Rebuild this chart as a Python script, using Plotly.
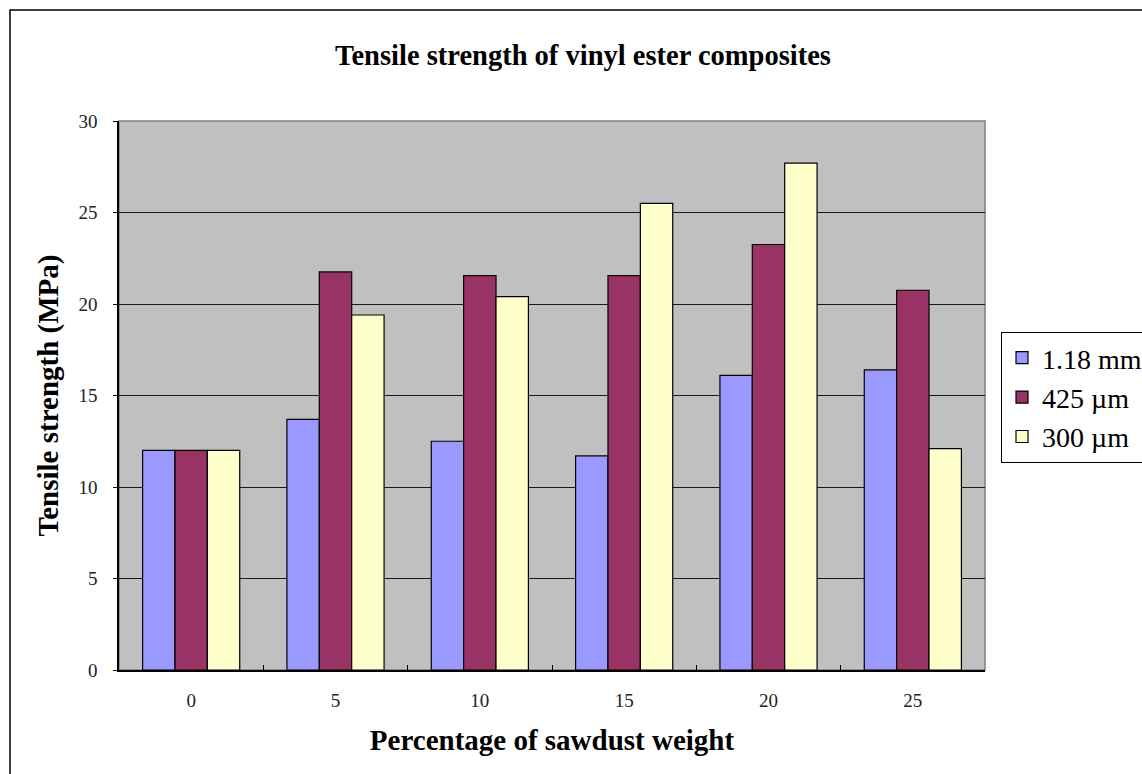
import plotly.graph_objects as go

# Sawdust weight percentages (categories)
sawdust_pct = ["0", "5", "10", "15", "20", "25"]

# Tensile strength (MPa) by particle size
strength_118mm = [12.0, 13.7, 12.5, 11.7, 16.1, 16.4]
strength_425um = [12.0, 21.75, 21.55, 21.55, 23.25, 20.75]
strength_300um = [12.0, 19.4, 20.4, 25.5, 27.7, 12.1]

series_names = ["1.18 mm", "425 µm", "300 µm"]
series_values = [strength_118mm, strength_425um, strength_300um]
series_colors = ["#9999FF", "#993366", "#FFFFCC"]

FONT = "Liberation Serif, Times New Roman, serif"

fig = go.Figure()
for i, (name, vals, col) in enumerate(zip(series_names, series_values, series_colors)):
    fig.add_trace(go.Bar(
        x=sawdust_pct, y=vals, name=name,
        marker=dict(color=col, line=dict(color="#000000", width=1.2)),
        legendgroup=f"g{i}",
    ))

W, H = 1142, 774
ml, mr, mt, mb = 119, 157, 121, 104
pw, ph = W - ml - mr, H - mt - mb

def px_x(x):
    return (x - ml) / pw

def px_y(y):
    return (H - mb - y) / ph

fig.update_layout(
    width=W, height=H,
    margin=dict(l=ml, r=mr, t=mt, b=mb, pad=0, autoexpand=False),
    paper_bgcolor="white",
    plot_bgcolor="#C0C0C0",
    barmode="group",
    bargap=0.327,
    bargroupgap=0,
    font=dict(family=FONT, color="#000000"),
    title=dict(
        text="<b>Tensile strength of vinyl ester composites</b>",
        x=583 / W, xanchor="center",
        y=1 - 55 / H, yanchor="middle",
        font=dict(family=FONT, size=28.5, color="#000000"),
    ),
    xaxis=dict(
        type="category",
        tickson="boundaries",
        ticks="inside", ticklen=5, tickcolor="#000000", tickwidth=1,
        showline=True, linecolor="#000000", linewidth=1.5,
        showgrid=False,
        tickfont=dict(family=FONT, size=19, color="#222222"),
        ticklabelstandoff=12,
        title=dict(text="<b>Percentage of sawdust weight</b>",
                   font=dict(family=FONT, size=29, color="#000000"),
                   standoff=20),
    ),
    yaxis=dict(
        range=[0, 30], dtick=5, tick0=0,
        ticks="outside", ticklen=4, tickcolor="#000000", tickwidth=1,
        showline=True, linecolor="#000000", linewidth=1.5,
        showgrid=True, gridcolor="#1a1a1a", gridwidth=1.2,
        zeroline=False,
        tickfont=dict(family=FONT, size=19, color="#222222"),
        ticklabelstandoff=12,
        title=dict(text="<b>Tensile strength (MPa)</b>",
                   font=dict(family=FONT, size=29, color="#000000"),
                   standoff=11),
    ),
    legend=dict(
        x=px_x(1001), xanchor="left",
        y=px_y(332), yanchor="top",
        bordercolor="#000000", borderwidth=1,
        bgcolor="white",
        font=dict(family=FONT, size=28, color="#000000"),
        traceorder="grouped", tracegroupgap=0,
        itemwidth=30,
    ),
    shapes=[
        # gray frame around the plot area (top/right edges visible)
        dict(type="rect", xref="paper", yref="paper", x0=0, x1=1, y0=0, y1=1,
             line=dict(color="#808080", width=1.5), layer="below"),
        # outer chart border
        dict(type="rect", xref="paper", yref="paper",
             x0=px_x(10), x1=px_x(1160), y0=px_y(790), y1=px_y(10),
             line=dict(color="#000000", width=1.5)),
    ],
)

fig.write_html("out.html")
